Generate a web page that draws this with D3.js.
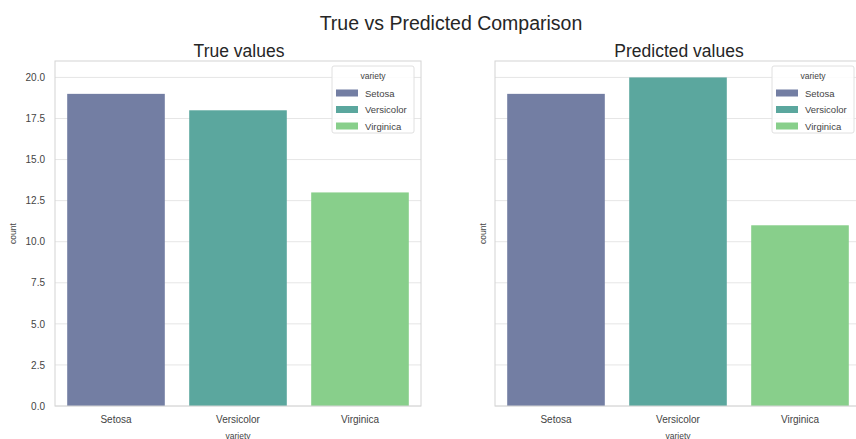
<!DOCTYPE html>
<html><head><meta charset="utf-8">
<script src="https://cdn.jsdelivr.net/npm/d3@7"></script>
<style>body{margin:0;background:#fff;overflow:hidden}svg{display:block;font-family:"Liberation Sans",Arial,sans-serif}</style>
</head><body>
<svg id="c" width="856" height="439"></svg>
<script>
const categories = ["Setosa", "Versicolor", "Virginica"];
const trueValues = [19, 18, 13];
const predValues = [19, 20, 11];
const yTicks = [0, 2.5, 5, 7.5, 10, 12.5, 15, 17.5, 20];
const colors = ["#737ea3", "#5ba79e", "#88cf8b"];

const svg = d3.select("#c");
const plotTop = 61, plotBottom = 406;
const y = d3.scaleLinear().domain([0, 21]).range([plotBottom, plotTop]);
const color = d3.scaleOrdinal().domain(categories).range(colors);

svg.append("text").attr("x", 451).attr("y", 29.5).attr("text-anchor", "middle")
  .attr("font-size", 19.5).attr("fill", "#262626").text("True vs Predicted Comparison");

function panel(x0, x1, values, title, showY) {
  const g = svg.append("g");
  const x = d3.scaleBand().domain(categories).range([x0, x1]).paddingInner(0.2).paddingOuter(0.1);
  g.selectAll(".grid").data(yTicks).join("line")
    .attr("x1", x0).attr("x2", x1).attr("y1", d => y(d)).attr("y2", d => y(d))
    .attr("stroke", "#e6e6e6").attr("stroke-width", 1);
  g.selectAll(".bar").data(values).join("rect")
    .attr("x", (d, i) => x(categories[i])).attr("width", x.bandwidth())
    .attr("y", d => y(d)).attr("height", d => y(0) - y(d))
    .attr("fill", (d, i) => color(categories[i]));
  g.append("rect").attr("x", x0).attr("y", plotTop).attr("width", x1 - x0).attr("height", plotBottom - plotTop)
    .attr("fill", "none").attr("stroke", "#d4d4d4").attr("stroke-width", 1);
  const ya = d3.axisLeft(y).tickValues(yTicks).tickSize(0).tickPadding(10)
    .tickFormat(showY ? d3.format(".1f") : () => "");
  const yg = g.append("g").attr("transform", `translate(${x0},0)`).call(ya);
  yg.select(".domain").remove();
  yg.selectAll("text").attr("font-size", 10).attr("fill", "#444").attr("font-family", "Liberation Sans, Arial");
  const xa = d3.axisBottom(x).tickSize(0).tickPadding(10);
  const xg = g.append("g").attr("transform", `translate(0,${plotBottom})`).call(xa);
  xg.select(".domain").remove();
  xg.selectAll("text").attr("font-size", 10).attr("fill", "#444").attr("font-family", "Liberation Sans, Arial");
  g.append("text").attr("x", (x0 + x1) / 2).attr("y", 438.5).attr("text-anchor", "middle")
    .attr("font-size", 8.5).attr("fill", "#444").text("variety");
  g.append("text").attr("transform", `translate(${showY ? 16 : x0 - 9},${(plotTop + plotBottom) / 2}) rotate(-90)`)
    .attr("text-anchor", "middle").attr("font-size", 8.5).attr("fill", "#444").text("count");
  g.append("text").attr("x", (x0 + x1) / 2 + 1).attr("y", 57).attr("text-anchor", "middle")
    .attr("font-size", 17.5).attr("fill", "#262626").text(title);
  const lx = x1 - 89;
  const lg = g.append("g");
  lg.append("rect").attr("x", lx).attr("y", 66).attr("width", 82).attr("height", 67)
    .attr("fill", "#fff").attr("fill-opacity", 0.85).attr("stroke", "#e0e0e0").attr("rx", 2);
  lg.append("text").attr("x", lx + 41).attr("y", 79).attr("text-anchor", "middle")
    .attr("font-size", 8.5).attr("fill", "#444").text("variety");
  categories.forEach((c, i) => {
    const yy = 93 + i * 16.5;
    lg.append("rect").attr("x", lx + 4).attr("y", yy - 3.5).attr("width", 22).attr("height", 7).attr("fill", color(c));
    lg.append("text").attr("x", lx + 33).attr("y", yy + 3.5).attr("font-size", 9.5).attr("fill", "#444").text(c);
  });
}

panel(55, 421, trueValues, "True values", true);
panel(495, 861, predValues, "Predicted values", false);
</script>
</body></html>
